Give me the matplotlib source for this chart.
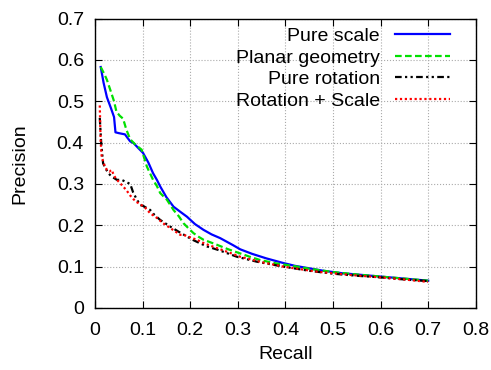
import numpy as np
import matplotlib
matplotlib.use("Agg")
import matplotlib.pyplot as plt

plt.rcParams['font.family'] = ['Liberation Sans', 'DejaVu Sans']

# Curvas precision-recall
scale_x = [0.012, 0.018, 0.025, 0.033, 0.040, 0.043, 0.050, 0.063, 0.068, 0.074, 0.081, 0.090,
           0.101, 0.112, 0.122, 0.130, 0.137, 0.150, 0.165, 0.180, 0.193, 0.210, 0.228, 0.245,
           0.263, 0.290, 0.305, 0.330, 0.360, 0.395, 0.420, 0.445, 0.480, 0.520, 0.560, 0.600,
           0.650, 0.700]
scale_y = [0.583, 0.545, 0.510, 0.485, 0.462, 0.425, 0.423, 0.420, 0.412, 0.403, 0.399, 0.388,
           0.375, 0.352, 0.326, 0.310, 0.294, 0.268, 0.245, 0.232, 0.221, 0.203, 0.189, 0.178,
           0.169, 0.152, 0.142, 0.131, 0.120, 0.109, 0.102, 0.097, 0.090, 0.084, 0.080, 0.076,
           0.071, 0.066]

planar_x = [0.012, 0.020, 0.025, 0.032, 0.040, 0.045, 0.052, 0.059, 0.066, 0.074, 0.085, 0.098,
            0.109, 0.122, 0.130, 0.137, 0.151, 0.165, 0.176, 0.186, 0.197, 0.207, 0.218, 0.228,
            0.240, 0.256, 0.280, 0.305, 0.325, 0.347, 0.380, 0.420, 0.450, 0.500, 0.550, 0.600,
            0.650, 0.700]
planar_y = [0.583, 0.565, 0.552, 0.528, 0.500, 0.475, 0.465, 0.458, 0.431, 0.408, 0.395, 0.383,
            0.342, 0.310, 0.295, 0.278, 0.262, 0.237, 0.222, 0.205, 0.192, 0.181, 0.172, 0.165,
            0.160, 0.153, 0.142, 0.132, 0.124, 0.116, 0.108, 0.101, 0.095, 0.087, 0.081, 0.076,
            0.071, 0.066]

rot_x = [0.010, 0.011, 0.013, 0.017, 0.022, 0.028, 0.035, 0.046, 0.056, 0.065, 0.074, 0.080,
         0.088, 0.095, 0.101, 0.116, 0.125, 0.137, 0.158, 0.175, 0.193, 0.205, 0.218, 0.235,
         0.260, 0.298, 0.340, 0.396, 0.450, 0.500, 0.550, 0.600, 0.650, 0.700]
rot_y = [0.460, 0.440, 0.400, 0.350, 0.338, 0.326, 0.318, 0.310, 0.310, 0.305, 0.300, 0.280,
         0.262, 0.249, 0.247, 0.237, 0.225, 0.213, 0.197, 0.185, 0.173, 0.165, 0.158, 0.149,
         0.140, 0.124, 0.112, 0.100, 0.090, 0.083, 0.078, 0.074, 0.069, 0.065]

rotscale_x = [0.010, 0.011, 0.012, 0.014, 0.020, 0.025, 0.030, 0.035, 0.040, 0.046, 0.052, 0.059,
              0.066, 0.074, 0.081, 0.088, 0.095, 0.105, 0.116, 0.130, 0.143, 0.160, 0.179, 0.186,
              0.193, 0.214, 0.230, 0.256, 0.280, 0.305, 0.350, 0.396, 0.466, 0.536, 0.600, 0.650,
              0.700]
rotscale_y = [0.490, 0.440, 0.400, 0.366, 0.345, 0.334, 0.330, 0.334, 0.320, 0.310, 0.303, 0.294,
              0.285, 0.272, 0.263, 0.256, 0.251, 0.243, 0.229, 0.218, 0.205, 0.192, 0.177, 0.177,
              0.174, 0.165, 0.156, 0.145, 0.135, 0.124, 0.111, 0.100, 0.088, 0.080, 0.074, 0.069,
              0.063]

fig = plt.figure(figsize=(4.91, 3.70), dpi=100)
ax = fig.add_axes([0.1935, 0.1676, 0.7755, 0.782])

ax.plot(scale_x, scale_y, color='#0000ff', lw=1.6, ls='-', label='Pure scale')
ax.plot(planar_x, planar_y, color='#00e000', lw=1.6, ls=(0, (3, 1.5)), label='Planar geometry')
ax.plot(rot_x, rot_y, color='black', lw=1.6, ls=(0, (3, 1.5, 1, 1.5, 1, 1.5)), label='Pure rotation')
ax.plot(rotscale_x, rotscale_y, color='#ff0000', lw=1.6, ls=(0, (1, 1.2)), label='Rotation + Scale')

ax.set_xlim(0, 0.8)
ax.set_ylim(0, 0.7)
ax.set_xticks(np.arange(0, 0.81, 0.1))
ax.set_yticks(np.arange(0, 0.71, 0.1))
ax.set_xticklabels(['0', '0.1', '0.2', '0.3', '0.4', '0.5', '0.6', '0.7', '0.8'])
ax.set_yticklabels(['0', '0.1', '0.2', '0.3', '0.4', '0.5', '0.6', '0.7'])
ax.tick_params(direction='in', top=True, right=True, labelsize=14, length=5)
ax.tick_params(axis='x', pad=10)
ax.tick_params(axis='y', pad=8)
ax.grid(True, color='#aaaaaa', ls=':', lw=0.8)
for s in ax.spines.values():
    s.set_linewidth(1.0)

ax.set_xlabel('Recall', fontsize=14, labelpad=5)
ax.set_ylabel('Precision', fontsize=14, labelpad=20)

leg = ax.legend(loc='upper right', bbox_to_anchor=(0.953, 0.996), frameon=False,
                markerfirst=False, fontsize=14, handlelength=2.85, labelspacing=0.2,
                borderaxespad=0, borderpad=0.4, handletextpad=0.75)
for t in leg.get_texts():
    t.set_ha('right')
leg._legend_box.align = 'right'

fig.savefig('out.png', dpi=100)
